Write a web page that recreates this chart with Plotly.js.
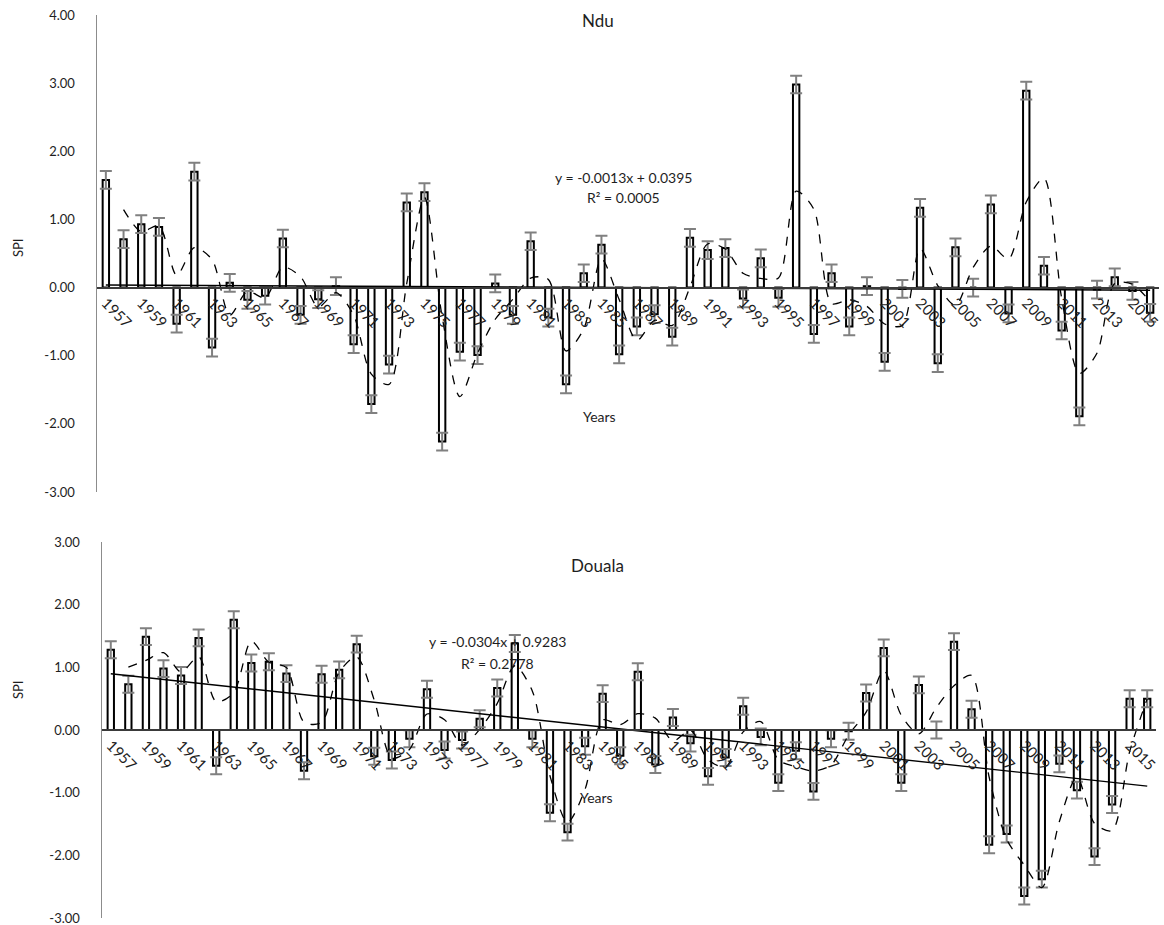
<!DOCTYPE html>
<html>
<head>
<meta charset="utf-8">
<script src="https://cdn.plot.ly/plotly-3.0.1.min.js"></script>
<style>html,body{margin:0;padding:0;background:#fff;}#chart{width:1164px;height:925px;}</style>
</head>
<body>
<div id="chart"></div>
<script>
// ---- Data ----
const years = [1957,1958,1959,1960,1961,1962,1963,1964,1965,1966,
               1967,1968,1969,1970,1971,1972,1973,1974,1975,1976,
               1977,1978,1979,1980,1981,1982,1983,1984,1985,1986,
               1987,1988,1989,1990,1991,1992,1993,1994,1995,1996,
               1997,1998,1999,2000,2001,2002,2003,2004,2005,2006,
               2007,2008,2009,2010,2011,2012,2013,2014,2015,2016];

const nduSPI = [1.58,0.71,0.93,0.89,-0.53,1.70,-0.88,0.07,-0.18,-0.12,
                0.72,-0.40,-0.17,0.02,-0.83,-1.71,-1.13,1.25,1.40,-2.26,
                -0.94,-0.99,0.06,-0.40,0.68,-0.44,-1.42,0.21,0.63,-0.98,
                -0.57,-0.39,-0.72,0.73,0.55,0.58,-0.16,0.43,-0.15,2.98,
                -0.68,0.21,-0.57,0.02,-1.09,-0.02,1.17,-1.11,0.59,0.00,
                1.22,-0.38,2.89,0.32,-0.63,-1.89,-0.03,0.15,-0.05,-0.37];

const doualaSPI = [1.28,0.73,1.49,0.98,0.87,1.47,-0.57,1.76,1.07,1.09,
                   0.90,-0.65,0.89,0.96,1.37,-0.42,-0.48,-0.14,0.65,-0.32,
                   -0.16,0.18,0.67,1.38,-0.14,-1.32,-1.63,-0.26,0.58,-0.41,
                   0.93,-0.55,0.20,-0.21,-0.74,-0.44,0.38,-0.11,-0.84,-0.33,
                   -0.98,-0.14,-0.02,0.59,1.31,-0.84,0.72,0.00,1.41,0.33,
                   -1.83,-1.66,-2.65,-2.38,-0.54,-0.96,-2.02,-1.19,0.50,0.50];

const tickYears = [1957,1959,1961,1963,1965,1967,1969,1971,1973,1975,1977,1979,1981,1983,1985,
                   1987,1989,1991,1993,1995,1997,1999,2001,2003,2005,2007,2009,2011,2013,2015];
const tickLabels = tickYears.map(String);

const nduYTicks = [-3,-2,-1,0,1,2,3,4];
const nduYLabels = ['-3.00','-2.00','-1.00','0.00','1.00','2.00','3.00','4.00'];
const doualaYTicks = [-3,-2,-1,0,1,2,3];
const doualaYLabels = ['-3.00','-2.00','-1.00','0.00','1.00','2.00','3.00'];

// Trendline coefficients as printed on the chart (x = 1..n)
const nduTrend = {slope: -0.0013, intercept: 0.0395, r2: '0.0005'};
const doualaTrend = {slope: -0.0304, intercept: 0.9283, r2: '0.2778'};

const nduErr = 0.13;
const doualaErr = 0.135;

// ---- Helpers ----
function movingAvg2(v){ const out=[]; for(let i=1;i<v.length;i++) out.push((v[i-1]+v[i])/2); return out; }
function trendLine(c,n){ const out=[]; for(let i=1;i<=n;i++) out.push(c.slope*i+c.intercept); return out; }
function fmtEq(c){ return 'y = ' + c.slope.toFixed(4) + 'x + ' + c.intercept.toFixed(4); }

const W = 1164, H = 925;
const FONT = 'Lato, "Open Sans", sans-serif';
const TXT = '#1e1e1e';

function barTrace(vals, err, xa, ya){
  return {type:'bar', x: years, y: vals, xaxis: xa, yaxis: ya, width: 0.36,
    marker:{color:'#ffffff', line:{color:'#000000', width:2}},
    error_y:{type:'constant', value: err, color:'#808080', thickness:2, width:6},
    hoverinfo:'x+y'};
}
function maTrace(vals, xa, ya){
  return {type:'scatter', mode:'lines', x: years.slice(1), y: movingAvg2(vals), xaxis: xa, yaxis: ya,
    line:{color:'#000000', width:1.3, dash:'dash', shape:'spline', smoothing:0.8}, hoverinfo:'skip'};
}
function trTrace(c, xa, ya){
  return {type:'scatter', mode:'lines', x: years, y: trendLine(c, years.length), xaxis: xa, yaxis: ya,
    line:{color:'#000000', width:1.4}, hoverinfo:'skip'};
}

const data = [
  barTrace(nduSPI, nduErr, 'x', 'y'),
  maTrace(nduSPI, 'x', 'y'),
  trTrace(nduTrend, 'x', 'y'),
  barTrace(doualaSPI, doualaErr, 'x2', 'y2'),
  maTrace(doualaSPI, 'x2', 'y2'),
  trTrace(doualaTrend, 'x2', 'y2')
];

// Domains (pixel -> paper)
const topDom = [1-492/H, 1-15/H];
const botDom = [1-918/H, 1-542/H];
const topRange = [-3, 4];
const botRange = [-3, 3];
function zeroPos(dom, rng){ return dom[0] + (0 - rng[0])/(rng[1]-rng[0])*(dom[1]-dom[0]); }

function xAxis(dom, ydom, yrng){
  return {domain: dom, range:[1956.5, 2016.5], anchor:'free', position: zeroPos(ydom, yrng),
    tickmode:'array', tickvals: tickYears, ticktext: tickLabels, tickangle:45,
    ticklabeloverflow:'allow',
    showline:true, linecolor:'#3a3a3a', linewidth:2, ticks:'', showgrid:false, zeroline:false,
    tickfont:{family:FONT, size:15, color:TXT}, fixedrange:true};
}
function yAxis(dom, rng, xa, tv, tt){
  return {domain: dom, range: rng, anchor: xa, tickmode:'array', tickvals: tv, ticktext: tt,
    ticklabeloverflow:'allow',
    showline:true, linecolor:'#8c8c8c', linewidth:1.5, ticks:'outside', ticklen:18,
    tickcolor:'rgba(0,0,0,0)', showgrid:false, zeroline:false,
    tickfont:{family:FONT, size:13, color:TXT}, fixedrange:true};
}

function ann(text, x, y, size, extra){
  return Object.assign({text:text, xref:'paper', yref:'paper', x:x/W, y:1-y/H, showarrow:false,
    xanchor:'center', yanchor:'middle', font:{family:FONT, size:size, color:TXT}}, extra||{});
}

const layout = {
  width: W, height: H, margin:{l:0,r:0,t:0,b:0}, paper_bgcolor:'#ffffff', plot_bgcolor:'rgba(0,0,0,0)',
  showlegend:false, barmode:'group',
  xaxis: xAxis([97/W, 1159/W], topDom, topRange),
  yaxis: yAxis(topDom, topRange, 'x', nduYTicks, nduYLabels),
  xaxis2: xAxis([102/W, 1156/W], botDom, botRange),
  yaxis2: yAxis(botDom, botRange, 'x2', doualaYTicks, doualaYLabels),
  annotations: [
    ann('Ndu', 598, 20, 17),
    ann('Douala', 597, 565, 17),
    ann('Years', 600, 416, 14),
    ann('Years', 596, 797, 14),
    ann('SPI', 18, 248, 13, {textangle:-90}),
    ann('SPI', 18, 690, 13, {textangle:-90}),
    ann(fmtEq(nduTrend), 623, 177, 14),
    ann('R² = ' + nduTrend.r2, 623, 197, 14),
    ann(fmtEq(doualaTrend), 497, 641, 14),
    ann('R² = ' + doualaTrend.r2, 497, 663, 14)
  ]
};

Plotly.newPlot('chart', data, layout, {displayModeBar:false, staticPlot:true});
</script>
</body>
</html>
